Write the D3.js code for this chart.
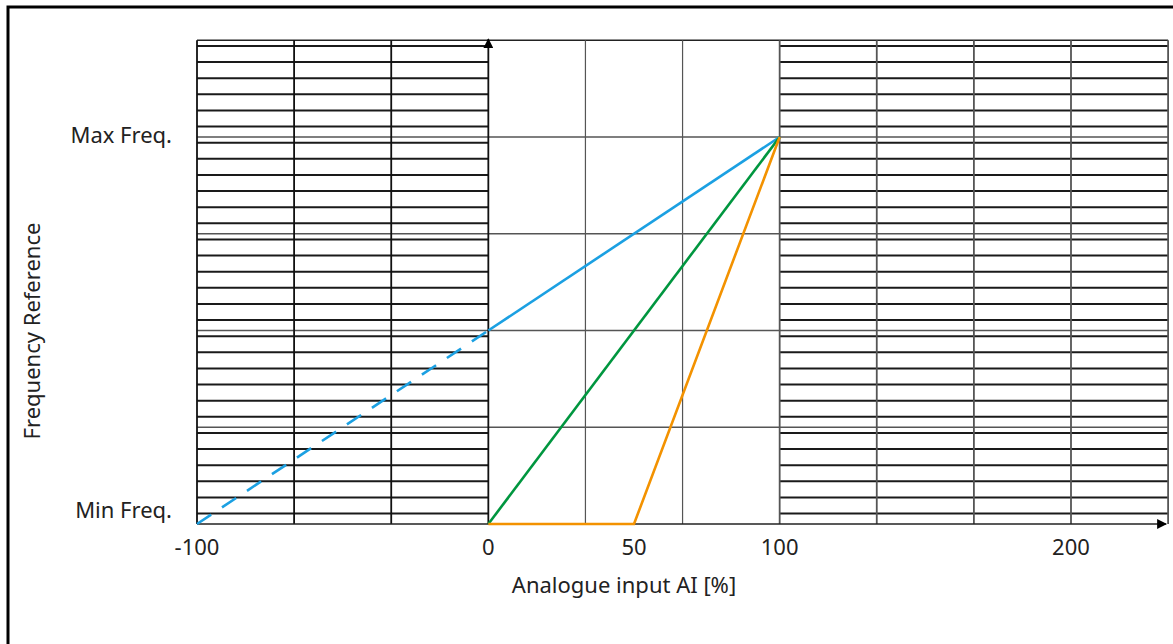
<!DOCTYPE html>
<html>
<head>
<meta charset="utf-8">
<script src="https://cdn.jsdelivr.net/npm/d3@7"></script>
<style>
  body { margin: 0; background: #fff; }
  text { font-family: "Noto Sans", sans-serif; fill: #222; }
</style>
</head>
<body>
<div id="chart"></div>
<script>
// x in % of analogue input, y as fraction Min Freq. (0) .. Max Freq. (1)
const xTicks = [-100, 0, 50, 100, 200];
const yLabels = [{ v: 0, t: "Min Freq." }, { v: 1, t: "Max Freq." }];
const xGrid = [-100, -66.67, -33.33, 0, 33.33, 66.67, 100, 133.33, 166.67, 200, 233.33];
const yGrid = [0.25, 0.5, 0.75, 1, 1.25];

const blueDashed = [[-100, 0], [0, 0.5]];
const blueSolid = [[0, 0.5], [100, 1]];
const green = [[0, 0], [100, 1]];
const orange = [[0, 0], [50, 0], [100, 1]];

const width = 1173, height = 644;
const fontSize = 22;

const svg = d3.select("#chart").append("svg")
    .attr("width", width)
    .attr("height", height);

const x = d3.scaleLinear().domain([-100, 200]).range([197, 1071]);
const y = d3.scaleLinear().domain([0, 1]).range([524, 137]);

// outer frame (runs off the picture at right and bottom)
svg.append("rect")
    .attr("x", 8).attr("y", 7)
    .attr("width", 1200).attr("height", 700)
    .attr("fill", "none")
    .attr("stroke", "#000")
    .attr("stroke-width", 3);

// hatched regions (AI below 0 % and above 100 %)
const hatchY = d3.range(0.027, 1.25, 1 / 24);
const regions = [[-100, 0], [100, 233.33]];
const hatch = svg.append("g");
regions.forEach(r => {
    hatch.selectAll(null)
        .data(hatchY)
        .enter().append("line")
        .attr("x1", x(r[0])).attr("x2", x(r[1]))
        .attr("y1", d => y(d)).attr("y2", d => y(d))
        .attr("stroke", "#1a1a1a")
        .attr("stroke-width", 2);
});

// major horizontal grid
svg.append("g").selectAll("line")
    .data(yGrid)
    .enter().append("line")
    .attr("x1", x(-100)).attr("x2", x(233.33))
    .attr("y1", d => y(d)).attr("y2", d => y(d))
    .attr("stroke", d => d === 1.25 ? "#222" : "#555")
    .attr("stroke-width", 1.5);

// vertical grid
svg.append("g").selectAll("line")
    .data(xGrid.filter(d => d !== 0))
    .enter().append("line")
    .attr("x1", d => x(d)).attr("x2", d => x(d))
    .attr("y1", y(1.25)).attr("y2", y(0))
    .attr("stroke", d => d < 0 ? "#111" : "#555")
    .attr("stroke-width", d => (d > 0 && d < 100) ? 1.2 : 1.8);

// arrow heads
const defs = svg.append("defs");
defs.append("marker")
    .attr("id", "arrow")
    .attr("viewBox", "0 0 10 10")
    .attr("refX", 9).attr("refY", 5)
    .attr("markerWidth", 10).attr("markerHeight", 10)
    .attr("markerUnits", "userSpaceOnUse")
    .attr("orient", "auto")
    .append("path")
    .attr("d", "M0,0 L10,5 L0,10 Z")
    .attr("fill", "#000");

// axes
svg.append("line")
    .attr("x1", x(-100)).attr("x2", x(233.33) - 2)
    .attr("y1", y(0)).attr("y2", y(0))
    .attr("stroke", "#222").attr("stroke-width", 1.5)
    .attr("marker-end", "url(#arrow)");
svg.append("line")
    .attr("x1", x(0)).attr("x2", x(0))
    .attr("y1", y(0)).attr("y2", y(1.25) - 1)
    .attr("stroke", "#111").attr("stroke-width", 1.8)
    .attr("marker-end", "url(#arrow)");

// curves
const line = d3.line().x(d => x(d[0])).y(d => y(d[1]));
const curves = [
    { data: blueDashed, color: "#1ba0e2", dash: "17,13" },
    { data: blueSolid, color: "#1ba0e2", dash: null },
    { data: green, color: "#00963f", dash: null },
    { data: orange, color: "#f39200", dash: null }
];
svg.append("g").selectAll("path")
    .data(curves)
    .enter().append("path")
    .attr("d", d => line(d.data))
    .attr("fill", "none")
    .attr("stroke", d => d.color)
    .attr("stroke-width", 2.6)
    .attr("stroke-dasharray", d => d.dash);

// tick labels
svg.append("g").selectAll("text")
    .data(xTicks)
    .enter().append("text")
    .attr("x", d => x(d))
    .attr("y", 555)
    .attr("text-anchor", "middle")
    .attr("font-size", fontSize)
    .text(d => d);

svg.append("g").selectAll("text")
    .data(yLabels)
    .enter().append("text")
    .attr("x", 172)
    .attr("y", d => d.v === 1 ? y(d.v) + 6 : y(d.v) - 6)
    .attr("text-anchor", "end")
    .attr("font-size", fontSize)
    .text(d => d.t);

// axis titles
svg.append("text")
    .attr("x", 624).attr("y", 593)
    .attr("text-anchor", "middle")
    .attr("font-size", fontSize)
    .text("Analogue input AI [%]");

svg.append("text")
    .attr("transform", "translate(40,331) rotate(-90)")
    .attr("text-anchor", "middle")
    .attr("font-size", fontSize)
    .text("Frequency Reference");
</script>
</body>
</html>
